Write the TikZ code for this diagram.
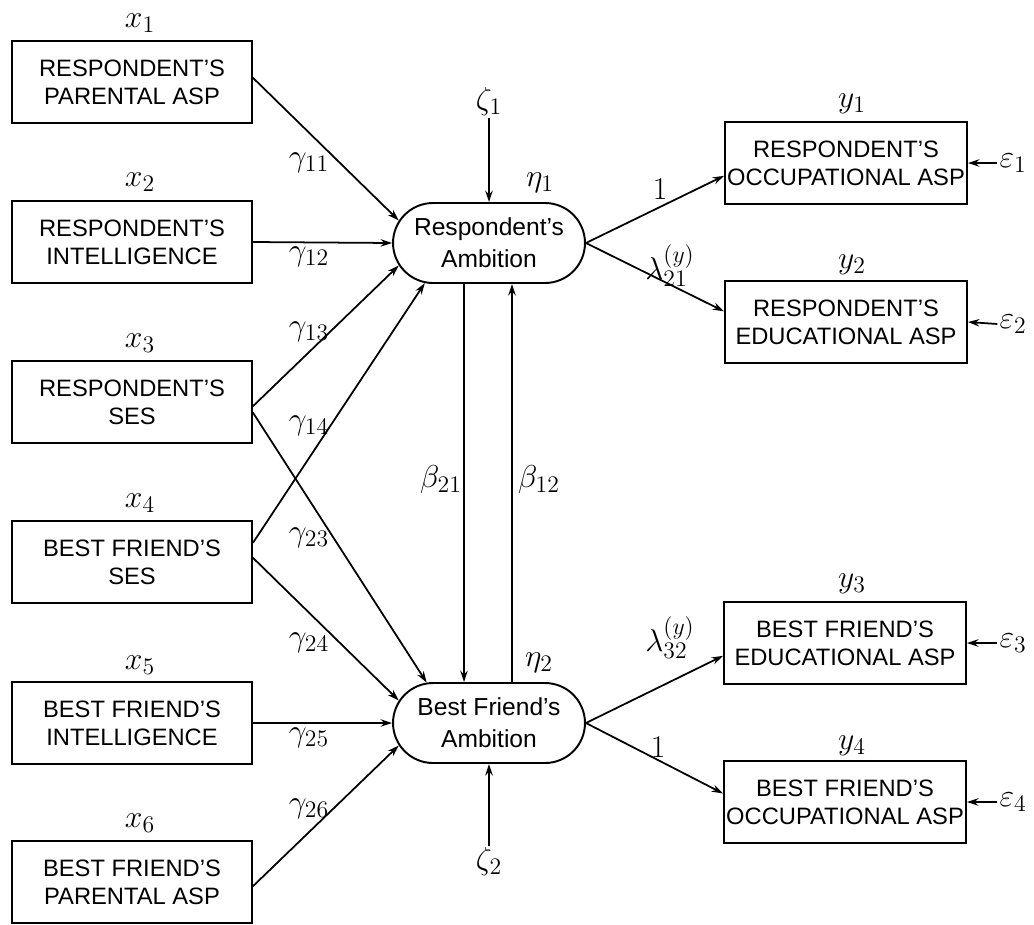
\RequirePackage{fix-cm}
\documentclass[tikz,border=0pt]{standalone}
\usepackage{fontspec}
\setsansfont{Liberation Sans}
\usetikzlibrary{shapes.misc,arrows.meta}
\DeclareMathSizes{18}{18}{13.5}{10}
\begin{document}
\begin{tikzpicture}[x=0.02cm,y=-0.02cm,
  obs/.style={draw,line width=1.1pt,minimum width=4.8cm,minimum height=1.64cm,
    inner sep=0pt,align=center,font=\sffamily\fontsize{13.5}{16}\selectfont},
  lat/.style={draw,rounded rectangle,line width=1.1pt,minimum width=3.84cm,
    minimum height=1.6cm,inner sep=0pt,align=center,
    font=\sffamily\fontsize{14}{18}\selectfont},
  lbl/.style={font=\fontsize{18}{21}\selectfont,inner sep=1pt},
  arr/.style={-{Stealth[length=6.5pt,width=4.2pt]},line width=1pt},
]
\useasboundingbox (0,0) rectangle (1034,924);

% exogenous indicators
\node[obs] (x1) at (132,82)  {RESPONDENT'S\\PARENTAL ASP};
\node[obs] (x2) at (132,242) {RESPONDENT'S\\INTELLIGENCE};
\node[obs] (x3) at (132,402) {RESPONDENT'S\\SES};
\node[obs] (x4) at (132,562) {BEST FRIEND'S\\SES};
\node[obs] (x5) at (132,723) {BEST FRIEND'S\\INTELLIGENCE};
\node[obs] (x6) at (132,882) {BEST FRIEND'S\\PARENTAL ASP};

\node[lbl] (lx1) at (140,23)  {$x_1$};
\node[lbl] (lx2) at (140,182) {$x_2$};
\node[lbl] (lx3) at (140,343) {$x_3$};
\node[lbl] (lx4) at (140,503) {$x_4$};
\node[lbl] (lx5) at (140,665) {$x_5$};
\node[lbl] (lx6) at (140,823) {$x_6$};

% latent variables
\node[lat] (eta1) at (489,243) {Respondent's\\Ambition};
\node[lat] (eta2) at (489,723) {Best Friend's\\Ambition};
\node[lbl] (leta1) at (540,183) {$\eta_1$};
\node[lbl] (leta2) at (539,663) {$\eta_2$};

% endogenous indicators
\node[obs,minimum width=4.84cm] (y1) at (846,163) {RESPONDENT'S\\OCCUPATIONAL ASP};
\node[obs,minimum width=4.84cm] (y2) at (846,322) {RESPONDENT'S\\EDUCATIONAL ASP};
\node[obs,minimum width=4.84cm] (y3) at (845,643) {BEST FRIEND'S\\EDUCATIONAL ASP};
\node[obs,minimum width=4.84cm] (y4) at (845,802) {BEST FRIEND'S\\OCCUPATIONAL ASP};

\node[lbl] (ly1) at (852,104) {$y_1$};
\node[lbl] (ly2) at (852,265) {$y_2$};
\node[lbl] (ly3) at (852,584) {$y_3$};
\node[lbl] (ly4) at (852,746) {$y_4$};

% disturbances and errors
\node[lbl] (z1) at (489,102) {$\zeta_1$};
\node[lbl] (z2) at (489,862) {$\zeta_2$};
\node[lbl] (e1) at (1013,163) {$\varepsilon_1$};
\node[lbl] (e2) at (1013,324) {$\varepsilon_2$};
\node[lbl] (e3) at (1013,643) {$\varepsilon_3$};
\node[lbl] (e4) at (1013,802) {$\varepsilon_4$};

% paths into the latent variables
\draw[arr] (x1.2)    -- (eta1.166);
\draw[arr] (x2.east) -- (eta1.west);
\draw[arr] (x3.-2)   -- (eta1.194);
\draw[arr] (x4.9)    -- (eta1.212);
\draw[arr] (x3.-5)   -- (eta2.147);
\draw[arr] (x4.2)    -- (eta2.166);
\draw[arr] (x5.east) -- (eta2.west);
\draw[arr] (x6.-2)   -- (eta2.194);

\node[lbl] (g11) at (309,163) {$\gamma_{11}$};
\node[lbl] (g12) at (309,257) {$\gamma_{12}$};
\node[lbl] (g13) at (309,332) {$\gamma_{13}$};
\node[lbl] (g14) at (309,426) {$\gamma_{14}$};
\node[lbl] (g23) at (309,538) {$\gamma_{23}$};
\node[lbl] (g24) at (309,643) {$\gamma_{24}$};
\node[lbl] (g25) at (309,738) {$\gamma_{25}$};
\node[lbl] (g26) at (309,809) {$\gamma_{26}$};

\draw[arr] (z1) -- (eta1.north);
\draw[arr] (z2) -- (eta2.south);

% reciprocal effects
\draw[arr] ([xshift=-0.5cm]eta1.south) -- ([xshift=-0.5cm]eta2.north);
\draw[arr] ([xshift=0.46cm]eta2.north) -- ([xshift=0.46cm]eta1.south);
\node[lbl] (b21) at (441,480) {$\beta_{21}$};
\node[lbl] (b12) at (539,480) {$\beta_{12}$};

% measurement paths
\draw[arr] (eta1.east) -- (y1.186);
\draw[arr] (eta1.east) -- (y2.175);
\draw[arr] (eta2.east) -- (y3.186);
\draw[arr] (eta2.east) -- (y4.176);
\node[lbl] (l11) at (660,189) {$1$};
\node[lbl] (l21) at (670,266) {$\lambda^{(y)}_{21}$};
\node[lbl] (l32) at (670,638) {$\lambda^{(y)}_{32}$};
\node[lbl] (l42) at (658,747) {$1$};

\draw[arr] (e1.west) -- (y1.east);
\draw[arr] (e2.west) -- (y2.east);
\draw[arr] (e3.west) -- (y3.east);
\draw[arr] (e4.west) -- (y4.east);
\end{tikzpicture}
\end{document}
